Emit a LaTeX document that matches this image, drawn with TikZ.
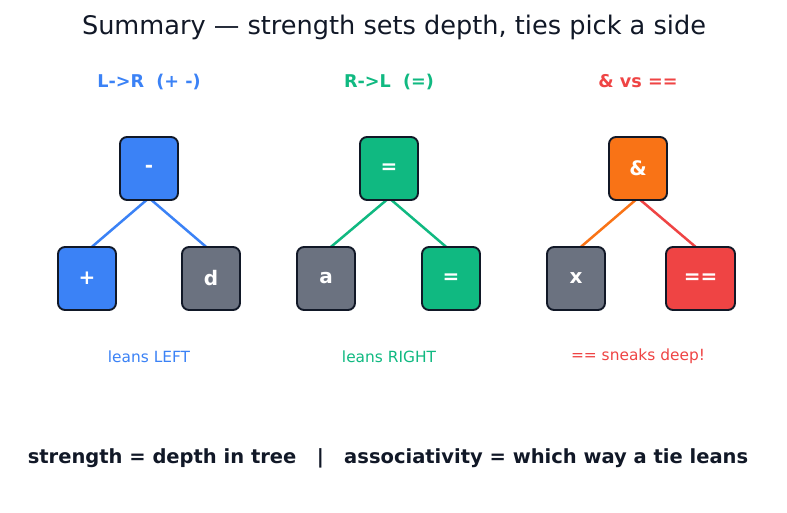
\documentclass[tikz,border=0pt]{standalone}
\usepackage{fontspec}
\setmainfont{DejaVu Sans}
\usetikzlibrary{backgrounds}
\definecolor{cblue}{HTML}{3B82F6}
\definecolor{cgreen}{HTML}{10B981}
\definecolor{cred}{HTML}{EF4444}
\definecolor{corange}{HTML}{F97316}
\definecolor{cgray}{HTML}{6B7280}
\definecolor{cdark}{HTML}{111827}
\tikzset{
  px/.style={x=1pt,y=-1pt},
  box/.style={draw=cdark, line width=1.9pt, rounded corners=7pt, minimum width=58pt, minimum height=63pt, inner sep=0pt, text=white, font=\fontsize{20}{24}\selectfont\bfseries},
  edge/.style={line width=2.5pt},
  headtext/.style={font=\fontsize{17.6}{21}\selectfont\bfseries},
  captext/.style={font=\fontsize{15.4}{18}\selectfont},
}
\begin{document}
\begin{tikzpicture}[px]
\useasboundingbox (0,0) rectangle (787,512);
\node[font=\fontsize{25.6}{30}\selectfont, text=cdark] (title) at (394,27) {Summary — strength sets depth, ties pick a side};

\node[headtext, text=cblue] (h1) at (149,81.5) {L->R\ \ (+ -)};
\node[headtext, text=cgreen] (h2) at (389,81.5) {R->L\ \ (=)};
\node[headtext, text=cred] (h3) at (638,81.5) {\& vs ==};

\node[box, fill=cblue] (m) at (149,168.5) {-};
\node[box, fill=cblue] (p) at (87,278.5) {+};
\node[box, fill=cgray] (d) at (211,278.5) {d};

\node[box, fill=cgreen] (e1) at (389,168.5) {=};
\node[box, fill=cgray] (a) at (326,278.5) {a};
\node[box, fill=cgreen] (e2) at (451,278.5) {=};

\node[box, fill=corange] (amp) at (638,168.5) {\&};
\node[box, fill=cgray] (x) at (576,278.5) {x};
\node[box, fill=cred, minimum width=69pt] (eq) at (700.5,278.5) {==};

\begin{scope}[on background layer]
\fill[white] (0,0) rectangle (787,512);
\draw[edge, cblue] ([yshift=3pt]m.south) -- ([yshift=-5pt]p.north);
\draw[edge, cblue] ([yshift=3pt]m.south) -- ([yshift=-5pt]d.north);
\draw[edge, cgreen] ([yshift=3pt]e1.south) -- ([yshift=-5pt]a.north);
\draw[edge, cgreen] ([yshift=3pt]e1.south) -- ([yshift=-5pt]e2.north);
\draw[edge, corange] ([yshift=3pt]amp.south) -- ([yshift=-5pt]x.north);
\draw[edge, cred] ([yshift=3pt]amp.south) -- ([yshift=-5pt]eq.north);
\end{scope}

\node[captext, text=cblue] (c1) at (149,356.5) {leans LEFT};
\node[captext, text=cgreen] (c2) at (389,356.5) {leans RIGHT};
\node[captext, text=cred] (c3) at (638,356.5) {== sneaks deep!};

\node[font=\fontsize{19.5}{23}\selectfont\bfseries, text=cdark] (foot) at (388,458.5) {strength = depth in tree\ \ \ |\ \ \ associativity = which way a tie leans};
\end{tikzpicture}
\end{document}
